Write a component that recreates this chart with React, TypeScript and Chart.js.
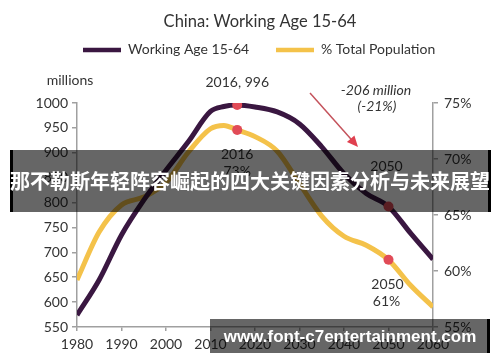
import React, { useEffect, useRef } from 'react';
import { Chart, registerables } from 'chart.js';

Chart.register(...registerables);

const TITLE = 'China: Working Age 15-64';
const SERIES_WORKING = 'Working Age 15-64';
const SERIES_SHARE = '% Total Population';
const LEFT_UNIT = 'millions';

const YEARS = [1980, 1985, 1990, 1995, 2000, 2005, 2010, 2013, 2016, 2020, 2025, 2030, 2035, 2040, 2045, 2050, 2055, 2060];
const WORKING_AGE = [574, 645, 735, 805, 865, 922, 983, 993, 996, 992, 982, 958, 912, 858, 818, 792, 738, 686];
const SHARE_PCT = [59.2, 63.5, 65.9, 66.6, 67.9, 70.6, 72.7, 73.0, 72.6, 72.0, 70.7, 67.8, 64.9, 63.1, 62.3, 61.0, 58.7, 56.8];

const X_TICKS = [1980, 1990, 2000, 2010, 2020, 2030, 2040, 2050, 2060];
const LEFT_TICKS = [550, 600, 650, 700, 750, 800, 850, 900, 950, 1000];
const RIGHT_TICKS = [55, 60, 65, 70, 75];

const HIGHLIGHT_YEARS = [2016, 2050];
const CHANGE_LABEL = ['-206 million', '(-21%)'];
const BANNER_TEXT = '那不勒斯年轻阵容崛起的四大关键因素分析与未来展望';
const WATERMARK = 'www.font-c7entertainment.com';

const PURPLE = '#3a1741';
const YELLOW = '#f4c24a';
const DOT = '#e14b57';
const TEXT = '#333333';
const AXIS = '#a0a0a0';
const FONT = 'Lato, "Open Sans", sans-serif';

const overlayPlugin = {
  id: 'overlayPlugin',
  afterDatasetsDraw(chart: any) {
    const { ctx, scales } = chart;
    const x = scales.x, y = scales.y, y1 = scales.y1;
    ctx.save();
    ctx.fillStyle = TEXT;
    ctx.textAlign = 'center';
    ctx.textBaseline = 'middle';

    // title
    ctx.font = `16.5px ${FONT}`;
    ctx.fillText(TITLE, 260, 22);

    // legend
    ctx.lineCap = 'butt';
    ctx.lineWidth = 4.5;
    ctx.strokeStyle = PURPLE;
    ctx.beginPath(); ctx.moveTo(83, 50); ctx.lineTo(121, 50); ctx.stroke();
    ctx.strokeStyle = YELLOW;
    ctx.beginPath(); ctx.moveTo(276, 50); ctx.lineTo(314, 50); ctx.stroke();
    ctx.font = `14px ${FONT}`;
    ctx.textAlign = 'left';
    ctx.fillText(SERIES_WORKING, 128, 49);
    ctx.fillText(SERIES_SHARE, 321, 49);

    // unit label
    ctx.textAlign = 'center';
    ctx.fillText(LEFT_UNIT, 70, 80);

    // point annotations
    const [ya, yb] = HIGHLIGHT_YEARS;
    const ia = YEARS.indexOf(ya), ib = YEARS.indexOf(yb);
    const pa = x.getPixelForValue(ya), pb = x.getPixelForValue(yb);
    const wa = y.getPixelForValue(WORKING_AGE[ia]);
    const sa = y1.getPixelForValue(SHARE_PCT[ia]);
    const wb = y.getPixelForValue(WORKING_AGE[ib]);
    const sb = y1.getPixelForValue(SHARE_PCT[ib]);
    ctx.fillText(`${ya}, ${WORKING_AGE[ia]}`, pa, wa - 23);
    ctx.fillText(`${ya}`, pa, sa + 25);
    ctx.fillText(`${Math.round(SHARE_PCT[ia])}%`, pa, sa + 42);
    ctx.fillText(`${yb}`, pb - 2, wb - 40);
    ctx.fillText(`${yb}`, pb - 1, sb + 25);
    ctx.fillText(`${Math.round(SHARE_PCT[ib])}%`, pb - 2, sb + 42);

    // change annotation
    ctx.font = `italic 14px ${FONT}`;
    ctx.fillText(CHANGE_LABEL[0], 376, 90);
    ctx.fillText(CHANGE_LABEL[1], 377, 106);

    // arrow
    const x0 = 310, y0 = 93, x1 = 358, y1p = 147;
    const ang = Math.atan2(y1p - y0, x1 - x0);
    ctx.strokeStyle = '#c4535c';
    ctx.lineWidth = 1.5;
    ctx.beginPath();
    ctx.moveTo(x0, y0);
    ctx.lineTo(x1 - 8 * Math.cos(ang), y1p - 8 * Math.sin(ang));
    ctx.stroke();
    ctx.fillStyle = '#e0404f';
    ctx.beginPath();
    ctx.moveTo(x1, y1p);
    ctx.lineTo(x1 - 11 * Math.cos(ang) + 5 * Math.sin(ang), y1p - 11 * Math.sin(ang) - 5 * Math.cos(ang));
    ctx.lineTo(x1 - 11 * Math.cos(ang) - 5 * Math.sin(ang), y1p - 11 * Math.sin(ang) + 5 * Math.cos(ang));
    ctx.closePath();
    ctx.fill();
    ctx.restore();
  },
  afterDraw(chart: any) {
    const { ctx } = chart;
    ctx.save();
    // banner
    ctx.fillStyle = 'rgba(0,0,0,0.6)';
    ctx.fillRect(10, 150, 481, 62);
    ctx.fillStyle = '#000';
    ctx.fillRect(10, 150, 3, 62);
    ctx.fillRect(488, 150, 3, 62);
    ctx.fillStyle = '#ffffff';
    ctx.textAlign = 'center';
    ctx.textBaseline = 'middle';
    ctx.font = 'bold 20px "Noto Sans CJK SC", sans-serif';
    ctx.fillText(BANNER_TEXT, 250, 181);
    // watermark
    ctx.fillStyle = 'rgba(0,0,0,0.6)';
    ctx.fillRect(210, 319, 280, 34);
    ctx.fillStyle = '#000';
    ctx.fillRect(487, 319, 3, 34);
    ctx.fillStyle = '#ffffff';
    ctx.font = 'bold 17px "Liberation Sans", Arial, sans-serif';
    ctx.fillText(WATERMARK, 350, 337);
    ctx.restore();
  },
};

export default function App() {
  const canvasRef = useRef<HTMLCanvasElement | null>(null);

  useEffect(() => {
    if (!canvasRef.current) return;
    const dotRadius = (c: any) => (c.raw && HIGHLIGHT_YEARS.includes(c.raw.x) ? 5 : 0);
    const chart = new Chart(canvasRef.current, {
      type: 'line',
      data: {
        datasets: [
          {
            label: SERIES_WORKING,
            data: YEARS.map((yr, i) => ({ x: yr, y: WORKING_AGE[i] })),
            yAxisID: 'y',
            borderColor: PURPLE,
            backgroundColor: PURPLE,
            borderWidth: 5,
            cubicInterpolationMode: 'monotone',
            pointRadius: dotRadius,
            pointBackgroundColor: DOT,
            pointBorderWidth: 0,
            fill: false,
          },
          {
            label: SERIES_SHARE,
            data: YEARS.map((yr, i) => ({ x: yr, y: SHARE_PCT[i] })),
            yAxisID: 'y1',
            borderColor: YELLOW,
            backgroundColor: YELLOW,
            borderWidth: 5,
            cubicInterpolationMode: 'monotone',
            pointRadius: dotRadius,
            pointBackgroundColor: DOT,
            pointBorderWidth: 0,
            fill: false,
          },
        ],
      },
      options: {
        responsive: false,
        maintainAspectRatio: false,
        animation: false,
        events: [],
        layout: { padding: { top: 103, left: 0, right: 0, bottom: 0 } },
        plugins: {
          legend: { display: false },
          title: { display: false },
          tooltip: { enabled: false },
        },
        scales: {
          x: {
            type: 'linear',
            min: X_TICKS[0],
            max: X_TICKS[X_TICKS.length - 1],
            afterFit: (s: any) => { s.height = 35; },
            afterBuildTicks: (s: any) => { s.ticks = X_TICKS.map((v) => ({ value: v })); },
            ticks: { color: TEXT, font: { family: FONT, size: 14 }, padding: 5, callback: (v: any) => String(v) },
            grid: { drawOnChartArea: false, drawTicks: true, tickLength: 4, color: AXIS, lineWidth: 1.5 },
            border: { display: true, color: AXIS, width: 1.5 },
          },
          y: {
            type: 'linear',
            position: 'left',
            min: LEFT_TICKS[0],
            max: LEFT_TICKS[LEFT_TICKS.length - 1],
            afterFit: (s: any) => { s.width = 77; },
            afterBuildTicks: (s: any) => { s.ticks = LEFT_TICKS.map((v) => ({ value: v })); },
            ticks: { color: TEXT, font: { family: FONT, size: 14 }, padding: 4, callback: (v: any) => String(v) },
            grid: { drawOnChartArea: false, drawTicks: true, tickLength: 5, color: AXIS, lineWidth: 1.5 },
            border: { display: true, color: AXIS, width: 1.5 },
          },
          y1: {
            type: 'linear',
            position: 'right',
            min: RIGHT_TICKS[0],
            max: RIGHT_TICKS[RIGHT_TICKS.length - 1],
            afterFit: (s: any) => { s.width = 67; },
            afterBuildTicks: (s: any) => { s.ticks = RIGHT_TICKS.map((v) => ({ value: v })); },
            ticks: { color: TEXT, font: { family: FONT, size: 14 }, padding: 6, callback: (v: any) => `${v}%` },
            grid: { drawOnChartArea: false, drawTicks: true, tickLength: 5, color: AXIS, lineWidth: 1.5 },
            border: { display: true, color: AXIS, width: 1.5 },
          },
        },
      } as any,
      plugins: [overlayPlugin],
    });
    return () => chart.destroy();
  }, []);

  return (
    <div style={{ position: 'absolute', left: 0, top: 0, width: 500, height: 362, background: '#fff' }}>
      <canvas ref={canvasRef} width={500} height={362} style={{ display: 'block', width: 500, height: 362 }} />
    </div>
  );
}
